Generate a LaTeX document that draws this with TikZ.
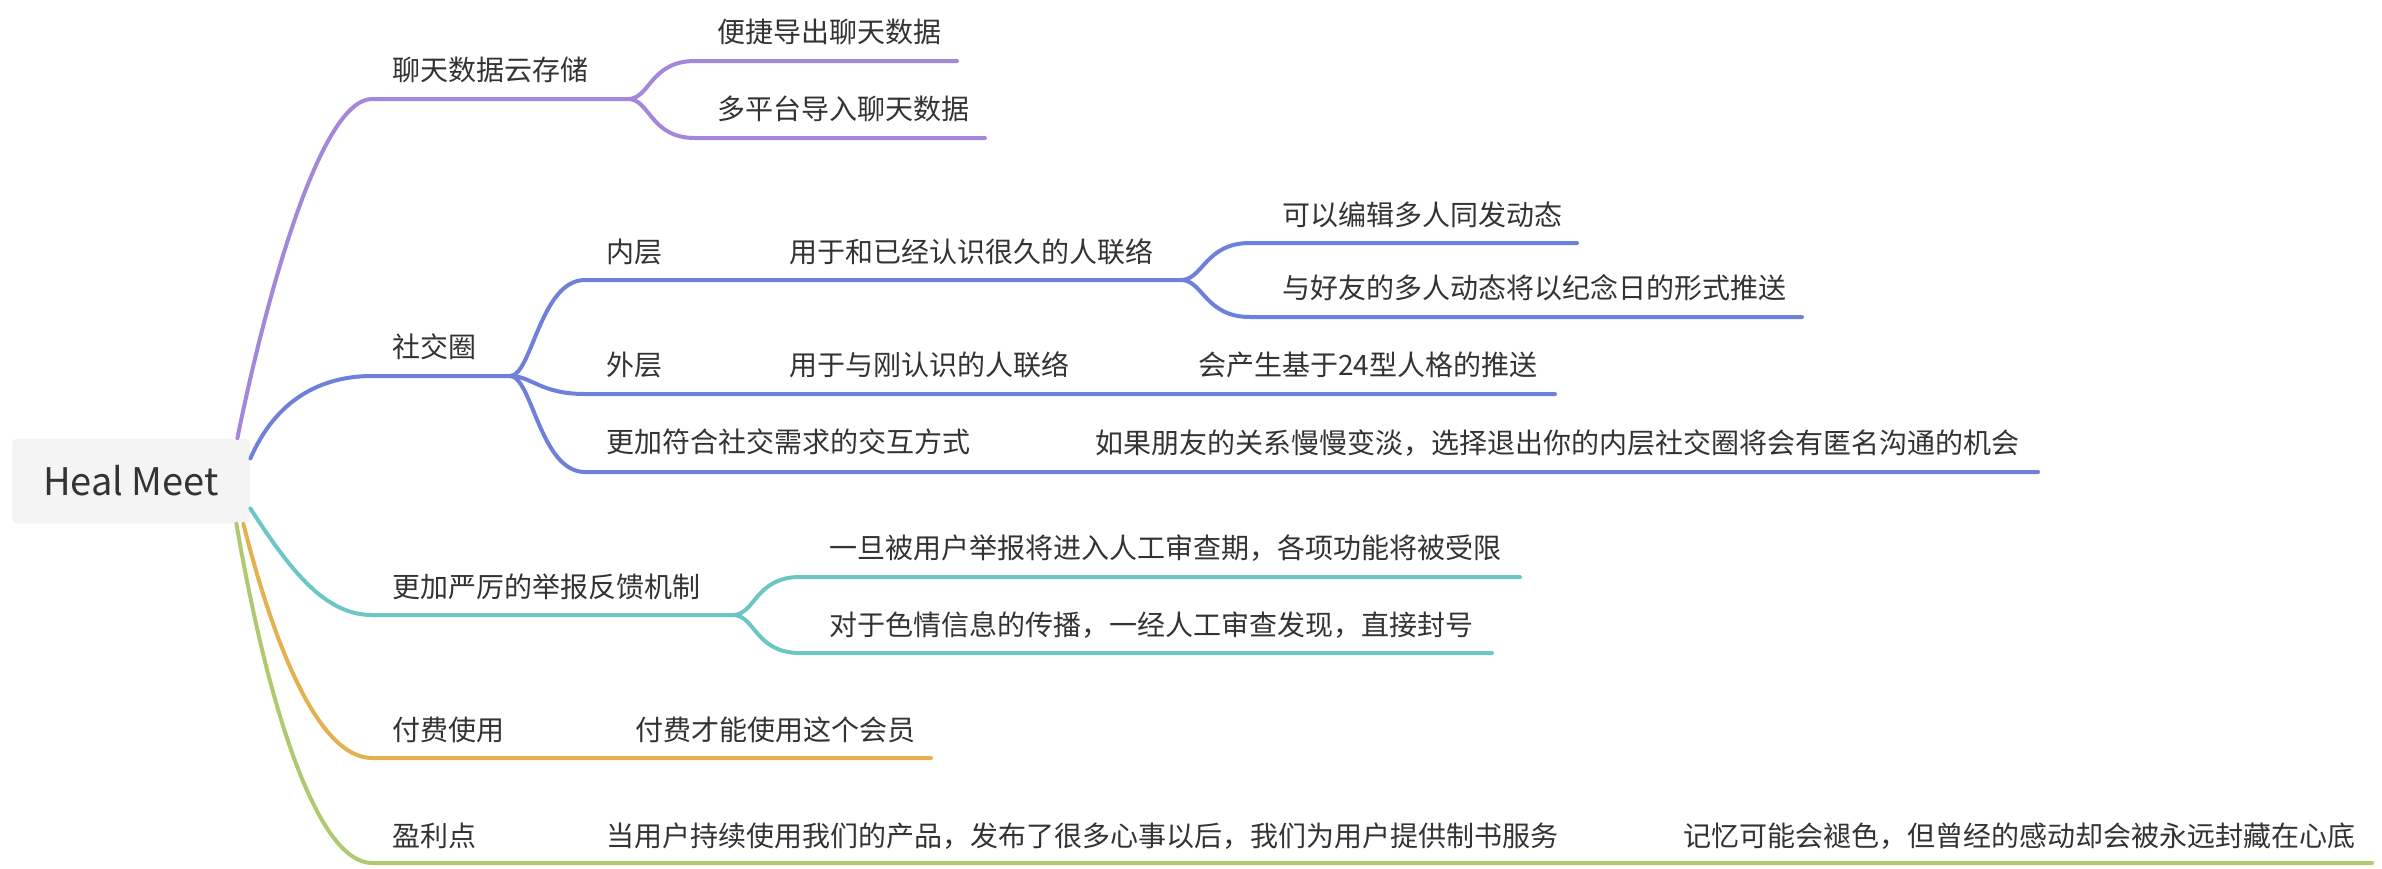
\documentclass[tikz,border=0pt]{standalone}
\usepackage{fontspec}
\setmainfont{Noto Sans CJK SC}
\usepackage{tikz}
\definecolor{txtgray}{HTML}{333333}
\definecolor{rootfill}{HTML}{F4F4F4}
\definecolor{cloudcol}{HTML}{A486DB}
\definecolor{socialcol}{HTML}{6E80DA}
\definecolor{reportcol}{HTML}{6CC6C4}
\definecolor{paycol}{HTML}{E3B150}
\definecolor{profitcol}{HTML}{B0C970}
\tikzset{
  topic/.style={anchor=west, inner sep=0pt, text=txtgray, font=\fontsize{14pt}{17pt}\selectfont},
  branch/.style={line width=2pt, line cap=round},
}

\begin{document}
\begin{tikzpicture}[x=0.5pt,y=-0.5pt]
		\useasboundingbox (0,0) rectangle (2382,868);
		% Root:
		\node[fill=rootfill, rounded corners=2.5pt, minimum width=119pt, minimum height=42.5pt, inner sep=0pt, text=txtgray, font=\fontsize{19pt}{22pt}\selectfont] (root) at (131,481) {Heal Meet};
		% Underline ends:
		\coordinate (cloud s) at (372,99);   \coordinate (cloud e) at (628,99);
		\coordinate (export s) at (695,61);  \coordinate (export e) at (957,61);
		\coordinate (import s) at (695,138); \coordinate (import e) at (985,138);
		\coordinate (social s) at (372,376); \coordinate (social e) at (510,376);
		\coordinate (inner s) at (585,280);  \coordinate (inner e) at (1181,280);
		\coordinate (edit s) at (1250,243);  \coordinate (edit e) at (1577,243);
		\coordinate (anniv s) at (1250,317); \coordinate (anniv e) at (1802,317);
		\coordinate (outer s) at (585,394);  \coordinate (outer e) at (1555,394);
		\coordinate (mode s) at (585,472);   \coordinate (mode e) at (2038,472);
		\coordinate (report s) at (372,615); \coordinate (report e) at (733,615);
		\coordinate (limit s) at (800,577);  \coordinate (limit e) at (1520,577);
		\coordinate (ban s) at (800,653);    \coordinate (ban e) at (1492,653);
		\coordinate (pay s) at (372,758);    \coordinate (pay e) at (931,758);
		\coordinate (profit s) at (372,863); \coordinate (profit e) at (2372,863);
		% Texts:
		\node[topic] (cloud) at (392,70) {聊天数据云存储};
		\node[topic] (export) at (717,32) {便捷导出聊天数据};
		\node[topic] (import) at (717,109) {多平台导入聊天数据};
		\node[topic] (social) at (392,347) {社交圈};
		\node[topic] (inner) at (606,252) {内层};
		\node[topic] (known) at (789,252) {用于和已经认识很久的人联络};
		\node[topic] (edit) at (1282,215) {可以编辑多人同发动态};
		\node[topic] (anniv) at (1282,288) {与好友的多人动态将以纪念日的形式推送};
		\node[topic] (outer) at (606,365) {外层};
		\node[topic] (new) at (789,365) {用于与刚认识的人联络};
		\node[topic] (mbti) at (1198,365) {会产生基于24型人格的推送};
		\node[topic] (mode) at (606,442) {更加符合社交需求的交互方式};
		\node[topic] (fade) at (1095,443) {如果朋友的关系慢慢变淡，选择退出你的内层社交圈将会有匿名沟通的机会};
		\node[topic] (report) at (392,587) {更加严厉的举报反馈机制};
		\node[topic] (limit) at (829,548) {一旦被用户举报将进入人工审查期，各项功能将被受限};
		\node[topic] (ban) at (829,625) {对于色情信息的传播，一经人工审查发现，直接封号};
		\node[topic] (pay) at (392,730) {付费使用};
		\node[topic] (member) at (635,730) {付费才能使用这个会员};
		\node[topic] (profit) at (392,836) {盈利点};
		\node[topic] (book) at (606,836) {当用户持续使用我们的产品，发布了很多心事以后，我们为用户提供制书服务};
		\node[topic] (memory) at (1683,836) {记忆可能会褪色，但曾经的感动却会被永远封藏在心底};
		% Branches:
		\draw[branch, cloudcol] ([xshift=-6.5pt]root.north east) .. controls +(28,-138) and +(-52,0) .. (cloud s) -- (cloud e);
		\draw[branch, cloudcol] (cloud e) .. controls +(22,0) and +(-45,0) .. (export s) -- (export e);
		\draw[branch, cloudcol] (cloud e) .. controls +(22,0) and +(-45,0) .. (import s) -- (import e);
		\draw[branch, socialcol] ([yshift=11.25pt]root.east) .. controls +(25,-58) and +(-52,0) .. (social s) -- (social e);
		\draw[branch, socialcol] (social e) .. controls +(22,0) and +(-45,0) .. (inner s) -- (inner e);
		\draw[branch, socialcol] (inner e) .. controls +(22,0) and +(-45,0) .. (edit s) -- (edit e);
		\draw[branch, socialcol] (inner e) .. controls +(22,0) and +(-45,0) .. (anniv s) -- (anniv e);
		\draw[branch, socialcol] (social e) .. controls +(22,0) and +(-45,0) .. (outer s) -- (outer e);
		\draw[branch, socialcol] (social e) .. controls +(22,0) and +(-45,0) .. (mode s) -- (mode e);
		\draw[branch, reportcol] ([yshift=-13.75pt]root.east) .. controls +(40,62) and +(-47,0) .. (report s) -- (report e);
		\draw[branch, reportcol] (report e) .. controls +(22,0) and +(-45,0) .. (limit s) -- (limit e);
		\draw[branch, reportcol] (report e) .. controls +(22,0) and +(-45,0) .. (ban s) -- (ban e);
		\draw[branch, paycol] ([xshift=-3.5pt]root.south east) .. controls +(32,127) and +(-52,0) .. (pay s) -- (pay e);
		\draw[branch, profitcol] ([xshift=-7pt]root.south east) .. controls +(34,197) and +(-52,0) .. (profit s) -- (profit e);
	\end{tikzpicture}
\end{document}
